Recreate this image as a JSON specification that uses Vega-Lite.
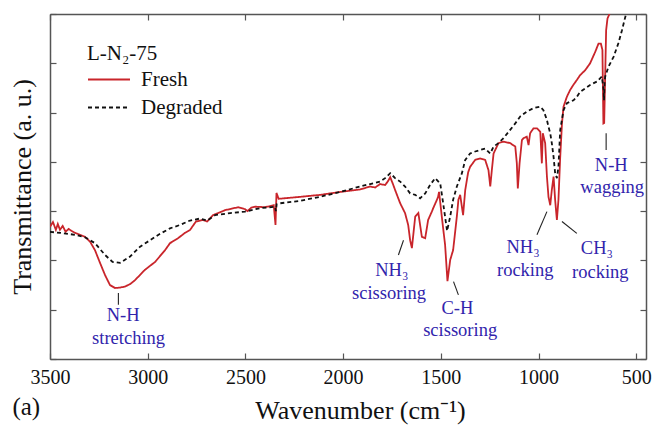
{
 "$schema": "https://vega.github.io/schema/vega-lite/v6.json",
 "width": 596,
 "height": 345,
 "autosize": {"type": "none"},
 "padding": {"left": 50, "top": 14, "right": 8, "bottom": 76},
 "background": "white",
 "config": {
  "font": "Liberation Serif",
  "view": {"stroke": null},
  "axis": {"domainColor": "#555", "domainWidth": 1.5, "tickColor": "#555", "tickWidth": 1.2, "tickSize": -6, "grid": false,
   "labelFont": "Liberation Serif", "labelFontSize": 20, "labelColor": "#111",
   "titleFont": "Liberation Serif", "titleFontSize": 26, "titleFontWeight": "normal", "titleColor": "#111"}
 },
 "title": {"text": "(a)", "orient": "bottom", "anchor": "start", "frame": "bounds", "fontSize": 25, "font": "Liberation Serif", "fontWeight": "normal", "color": "#111", "offset": -28, "dx": 3},
 "datasets": {
  "spectra": [
   {"series":"Fresh","wn":3500,"t":2.68},{"series":"Fresh","wn":3485,"t":2.78},{"series":"Fresh","wn":3470,"t":2.62},{"series":"Fresh","wn":3460,"t":2.74},{"series":"Fresh","wn":3449,"t":2.62},{"series":"Fresh","wn":3435,"t":2.70},{"series":"Fresh","wn":3420,"t":2.58},{"series":"Fresh","wn":3405,"t":2.64},{"series":"Fresh","wn":3390,"t":2.60},{"series":"Fresh","wn":3372,"t":2.56},{"series":"Fresh","wn":3321,"t":2.48},{"series":"Fresh","wn":3295,"t":2.38},{"series":"Fresh","wn":3270,"t":2.21},{"series":"Fresh","wn":3244,"t":1.95},{"series":"Fresh","wn":3218,"t":1.70},{"series":"Fresh","wn":3193,"t":1.50},{"series":"Fresh","wn":3167,"t":1.44},{"series":"Fresh","wn":3140,"t":1.45},{"series":"Fresh","wn":3116,"t":1.47},{"series":"Fresh","wn":3090,"t":1.52},{"series":"Fresh","wn":3065,"t":1.60},{"series":"Fresh","wn":3014,"t":1.81},{"series":"Fresh","wn":2962,"t":1.97},{"series":"Fresh","wn":2911,"t":2.21},{"series":"Fresh","wn":2886,"t":2.35},{"series":"Fresh","wn":2845,"t":2.45},{"series":"Fresh","wn":2809,"t":2.56},{"series":"Fresh","wn":2783,"t":2.62},{"series":"Fresh","wn":2753,"t":2.79},{"series":"Fresh","wn":2717,"t":2.82},{"series":"Fresh","wn":2696,"t":2.79},{"series":"Fresh","wn":2665,"t":2.92},{"series":"Fresh","wn":2604,"t":3.02},{"series":"Fresh","wn":2537,"t":3.08},{"series":"Fresh","wn":2502,"t":3.04},{"series":"Fresh","wn":2490,"t":3.00},{"series":"Fresh","wn":2470,"t":3.07},{"series":"Fresh","wn":2450,"t":3.09},{"series":"Fresh","wn":2399,"t":3.08},{"series":"Fresh","wn":2355,"t":3.12},{"series":"Fresh","wn":2346,"t":2.72},{"series":"Fresh","wn":2341,"t":3.37},{"series":"Fresh","wn":2330,"t":3.25},{"series":"Fresh","wn":2220,"t":3.29},{"series":"Fresh","wn":2118,"t":3.33},{"series":"Fresh","wn":2015,"t":3.39},{"series":"Fresh","wn":1913,"t":3.44},{"series":"Fresh","wn":1862,"t":3.50},{"series":"Fresh","wn":1836,"t":3.48},{"series":"Fresh","wn":1811,"t":3.55},{"series":"Fresh","wn":1785,"t":3.53},{"series":"Fresh","wn":1770,"t":3.61},{"series":"Fresh","wn":1759,"t":3.69},{"series":"Fresh","wn":1745,"t":3.55},{"series":"Fresh","wn":1734,"t":3.43},{"series":"Fresh","wn":1708,"t":3.16},{"series":"Fresh","wn":1683,"t":2.96},{"series":"Fresh","wn":1667,"t":2.72},{"series":"Fresh","wn":1657,"t":2.41},{"series":"Fresh","wn":1648,"t":2.25},{"series":"Fresh","wn":1631,"t":2.89},{"series":"Fresh","wn":1615,"t":2.96},{"series":"Fresh","wn":1597,"t":2.48},{"series":"Fresh","wn":1580,"t":2.45},{"series":"Fresh","wn":1565,"t":2.82},{"series":"Fresh","wn":1546,"t":2.99},{"series":"Fresh","wn":1539,"t":3.06},{"series":"Fresh","wn":1520,"t":3.23},{"series":"Fresh","wn":1514,"t":3.29},{"series":"Fresh","wn":1509,"t":3.39},{"series":"Fresh","wn":1495,"t":2.89},{"series":"Fresh","wn":1478,"t":2.31},{"series":"Fresh","wn":1466,"t":1.58},{"series":"Fresh","wn":1452,"t":2.01},{"series":"Fresh","wn":1437,"t":2.21},{"series":"Fresh","wn":1418,"t":2.89},{"series":"Fresh","wn":1410,"t":3.23},{"series":"Fresh","wn":1401,"t":3.33},{"series":"Fresh","wn":1386,"t":2.92},{"series":"Fresh","wn":1375,"t":3.43},{"series":"Fresh","wn":1360,"t":3.79},{"series":"Fresh","wn":1350,"t":3.90},{"series":"Fresh","wn":1324,"t":4.04},{"series":"Fresh","wn":1299,"t":4.07},{"series":"Fresh","wn":1273,"t":4.04},{"series":"Fresh","wn":1256,"t":3.83},{"series":"Fresh","wn":1247,"t":3.50},{"series":"Fresh","wn":1239,"t":3.83},{"series":"Fresh","wn":1230,"t":4.17},{"series":"Fresh","wn":1205,"t":4.38},{"series":"Fresh","wn":1179,"t":4.41},{"series":"Fresh","wn":1145,"t":4.38},{"series":"Fresh","wn":1119,"t":4.31},{"series":"Fresh","wn":1111,"t":3.97},{"series":"Fresh","wn":1106,"t":3.46},{"series":"Fresh","wn":1097,"t":3.97},{"series":"Fresh","wn":1085,"t":4.44},{"series":"Fresh","wn":1077,"t":4.48},{"series":"Fresh","wn":1060,"t":4.51},{"series":"Fresh","wn":1051,"t":4.34},{"series":"Fresh","wn":1043,"t":4.58},{"series":"Fresh","wn":1026,"t":4.68},{"series":"Fresh","wn":1008,"t":4.68},{"series":"Fresh","wn":991,"t":4.61},{"series":"Fresh","wn":983,"t":3.97},{"series":"Fresh","wn":978,"t":4.58},{"series":"Fresh","wn":966,"t":4.38},{"series":"Fresh","wn":957,"t":3.70},{"series":"Fresh","wn":949,"t":3.29},{"series":"Fresh","wn":940,"t":3.12},{"series":"Fresh","wn":932,"t":3.43},{"series":"Fresh","wn":923,"t":3.70},{"series":"Fresh","wn":915,"t":3.23},{"series":"Fresh","wn":906,"t":2.82},{"series":"Fresh","wn":898,"t":3.23},{"series":"Fresh","wn":889,"t":4.10},{"series":"Fresh","wn":880,"t":4.78},{"series":"Fresh","wn":872,"t":5.12},{"series":"Fresh","wn":855,"t":5.32},{"series":"Fresh","wn":838,"t":5.46},{"series":"Fresh","wn":822,"t":5.56},{"series":"Fresh","wn":804,"t":5.66},{"series":"Fresh","wn":787,"t":5.76},{"series":"Fresh","wn":761,"t":5.86},{"series":"Fresh","wn":736,"t":6.00},{"series":"Fresh","wn":710,"t":6.23},{"series":"Fresh","wn":693,"t":6.40},{"series":"Fresh","wn":681,"t":6.40},{"series":"Fresh","wn":673,"t":6.27},{"series":"Fresh","wn":668,"t":4.78},{"series":"Fresh","wn":664,"t":4.79},{"series":"Fresh","wn":659,"t":5.73},{"series":"Fresh","wn":654,"t":6.67},{"series":"Fresh","wn":647,"t":6.91},{"series":"Fresh","wn":637,"t":7.00},{"series":"Fresh","wn":630,"t":7.12},
   {"series":"Degraded","wn":3500,"t":2.58},{"series":"Degraded","wn":3449,"t":2.56},{"series":"Degraded","wn":3372,"t":2.52},{"series":"Degraded","wn":3321,"t":2.47},{"series":"Degraded","wn":3270,"t":2.35},{"series":"Degraded","wn":3218,"t":2.11},{"series":"Degraded","wn":3180,"t":1.97},{"series":"Degraded","wn":3142,"t":1.95},{"series":"Degraded","wn":3090,"t":2.08},{"series":"Degraded","wn":3039,"t":2.28},{"series":"Degraded","wn":2988,"t":2.41},{"series":"Degraded","wn":2937,"t":2.54},{"series":"Degraded","wn":2886,"t":2.65},{"series":"Degraded","wn":2835,"t":2.72},{"series":"Degraded","wn":2783,"t":2.81},{"series":"Degraded","wn":2732,"t":2.85},{"series":"Degraded","wn":2696,"t":2.81},{"series":"Degraded","wn":2655,"t":2.92},{"series":"Degraded","wn":2578,"t":2.96},{"series":"Degraded","wn":2502,"t":2.99},{"series":"Degraded","wn":2425,"t":3.06},{"series":"Degraded","wn":2348,"t":3.09},{"series":"Degraded","wn":2344,"t":3.00},{"series":"Degraded","wn":2340,"t":3.14},{"series":"Degraded","wn":2322,"t":3.16},{"series":"Degraded","wn":2220,"t":3.21},{"series":"Degraded","wn":2118,"t":3.29},{"series":"Degraded","wn":2015,"t":3.39},{"series":"Degraded","wn":1913,"t":3.50},{"series":"Degraded","wn":1811,"t":3.60},{"series":"Degraded","wn":1785,"t":3.67},{"series":"Degraded","wn":1759,"t":3.77},{"series":"Degraded","wn":1734,"t":3.67},{"series":"Degraded","wn":1708,"t":3.60},{"series":"Degraded","wn":1683,"t":3.50},{"series":"Degraded","wn":1657,"t":3.36},{"series":"Degraded","wn":1631,"t":3.33},{"series":"Degraded","wn":1606,"t":3.26},{"series":"Degraded","wn":1580,"t":3.36},{"series":"Degraded","wn":1555,"t":3.53},{"series":"Degraded","wn":1529,"t":3.67},{"series":"Degraded","wn":1503,"t":3.56},{"series":"Degraded","wn":1488,"t":3.16},{"series":"Degraded","wn":1468,"t":2.60},{"series":"Degraded","wn":1452,"t":2.89},{"series":"Degraded","wn":1437,"t":3.23},{"series":"Degraded","wn":1418,"t":3.50},{"series":"Degraded","wn":1392,"t":3.77},{"series":"Degraded","wn":1375,"t":4.04},{"series":"Degraded","wn":1350,"t":4.17},{"series":"Degraded","wn":1324,"t":4.21},{"series":"Degraded","wn":1299,"t":4.24},{"series":"Degraded","wn":1273,"t":4.27},{"series":"Degraded","wn":1247,"t":4.17},{"series":"Degraded","wn":1230,"t":4.31},{"series":"Degraded","wn":1205,"t":4.38},{"series":"Degraded","wn":1179,"t":4.48},{"series":"Degraded","wn":1145,"t":4.65},{"series":"Degraded","wn":1119,"t":4.78},{"series":"Degraded","wn":1094,"t":4.92},{"series":"Degraded","wn":1060,"t":5.02},{"series":"Degraded","wn":1026,"t":5.09},{"series":"Degraded","wn":991,"t":5.12},{"series":"Degraded","wn":975,"t":5.05},{"series":"Degraded","wn":957,"t":4.85},{"series":"Degraded","wn":949,"t":4.71},{"series":"Degraded","wn":940,"t":4.58},{"series":"Degraded","wn":932,"t":4.38},{"series":"Degraded","wn":923,"t":4.10},{"series":"Degraded","wn":915,"t":3.77},{"series":"Degraded","wn":906,"t":3.67},{"series":"Degraded","wn":898,"t":3.90},{"series":"Degraded","wn":889,"t":4.65},{"series":"Degraded","wn":872,"t":5.05},{"series":"Degraded","wn":855,"t":5.19},{"series":"Degraded","wn":821,"t":5.25},{"series":"Degraded","wn":804,"t":5.32},{"series":"Degraded","wn":787,"t":5.42},{"series":"Degraded","wn":761,"t":5.49},{"series":"Degraded","wn":736,"t":5.56},{"series":"Degraded","wn":701,"t":5.63},{"series":"Degraded","wn":676,"t":5.73},{"series":"Degraded","wn":667,"t":5.46},{"series":"Degraded","wn":665,"t":5.25},{"series":"Degraded","wn":662,"t":5.60},{"series":"Degraded","wn":659,"t":5.73},{"series":"Degraded","wn":642,"t":5.93},{"series":"Degraded","wn":616,"t":6.13},{"series":"Degraded","wn":591,"t":6.41},{"series":"Degraded","wn":573,"t":6.67},{"series":"Degraded","wn":556,"t":6.94},{"series":"Degraded","wn":545,"t":7.08}
  ],
  "labels": [
   {"label":"N-H","wn":3126,"t":0.89},{"label":"stretching","wn":3098,"t":0.43},
   {"label":"NH₃","wn":1751,"t":1.81},{"label":"scissoring","wn":1765,"t":1.34},
   {"label":"C-H","wn":1415,"t":1.03},{"label":"scissoring","wn":1401,"t":0.58},
   {"label":"NH₃","wn":1079,"t":2.28},{"label":"rocking","wn":1068,"t":1.81},
   {"label":"CH₃","wn":701,"t":2.25},{"label":"rocking","wn":684,"t":1.77},
   {"label":"N-H","wn":628,"t":3.94},{"label":"wagging","wn":623,"t":3.50}
  ],
  "leaders": [
   {"wn":3150,"t":1.34,"wn2":3150,"t2":1.10},
   {"wn":1691,"t":2.41,"wn2":1717,"t2":2.11},
   {"wn":1435,"t":1.57,"wn2":1410,"t2":1.30},
   {"wn":957,"t":2.99,"wn2":1008,"t2":2.52},
   {"wn":880,"t":2.79,"wn2":804,"t2":2.55},
   {"wn":654,"t":4.58,"wn2":654,"t2":4.24}
  ]
 },
 "layer": [
  {
   "data": {"name": "spectra"},
   "mark": {"type": "line", "strokeWidth": 1.8, "clip": true},
   "encoding": {
    "x": {"field": "wn", "type": "quantitative",
     "scale": {"domain": [450, 3500], "reverse": true, "nice": false, "zero": false},
     "axis": {"orient": "bottom", "values": [500, 1000, 1500, 2000, 2500, 3000, 3500], "format": "d", "labelFlush": false, "labelPadding": 14, "title": "Wavenumber (cm⁻¹)", "titlePadding": 10, "titleX": 310}},
    "y": {"field": "t", "type": "quantitative",
     "scale": {"domain": [0, 7], "nice": false, "zero": false},
     "axis": {"orient": "left", "values": [0, 1, 2, 3, 4, 5, 6, 7], "labels": false, "title": "Transmittance (a. u.)", "titlePadding": 14}},
    "color": {"field": "series", "type": "nominal",
     "scale": {"domain": ["Fresh", "Degraded"], "range": ["#c9252b", "#111111"]},
     "legend": {"orient": "none", "legendX": 37, "legendY": 29, "title": "L-N₂-75", "titleFont": "Liberation Serif", "titleFontSize": 21, "titleFontWeight": "normal", "titleColor": "#111", "titlePadding": 4, "labelFont": "Liberation Serif", "labelFontSize": 21, "labelColor": "#111", "labelOffset": 31, "symbolType": "M-1,0H3", "symbolSize": 441, "symbolStrokeWidth": 2, "rowPadding": 6}},
    "strokeDash": {"field": "series", "type": "nominal",
     "scale": {"domain": ["Fresh", "Degraded"], "range": [[1, 0], [4, 3]]},
     "legend": {"orient": "none", "legendX": 37, "legendY": 29, "title": "L-N₂-75", "titleFont": "Liberation Serif", "titleFontSize": 21, "titleFontWeight": "normal", "titleColor": "#111", "titlePadding": 4, "labelFont": "Liberation Serif", "labelFontSize": 21, "labelColor": "#111", "labelOffset": 31, "symbolType": "M-1,0H3", "symbolSize": 441, "symbolStrokeWidth": 2, "rowPadding": 6}}
   }
  },
  {
   "data": {"name": "labels"},
   "mark": {"type": "text", "font": "Liberation Serif", "fontSize": 18.5, "color": "#3124ac", "align": "center", "baseline": "middle"},
   "encoding": {
    "x": {"field": "wn", "type": "quantitative", "axis": {"orient": "top", "values": [500, 1000, 1500, 2000, 2500, 3000, 3500], "labels": false, "title": null}},
    "y": {"field": "t", "type": "quantitative", "axis": {"orient": "right", "values": [0, 1, 2, 3, 4, 5, 6, 7], "labels": false, "title": null}},
    "text": {"field": "label", "type": "nominal"}
   }
  },
  {
   "data": {"name": "leaders"},
   "mark": {"type": "rule", "color": "#222", "strokeWidth": 1.1},
   "encoding": {
    "x": {"field": "wn", "type": "quantitative", "axis": null},
    "x2": {"field": "wn2"},
    "y": {"field": "t", "type": "quantitative", "axis": null},
    "y2": {"field": "t2"}
   }
  }
 ],
 "resolve": {"axis": {"x": "independent", "y": "independent"}}
}
